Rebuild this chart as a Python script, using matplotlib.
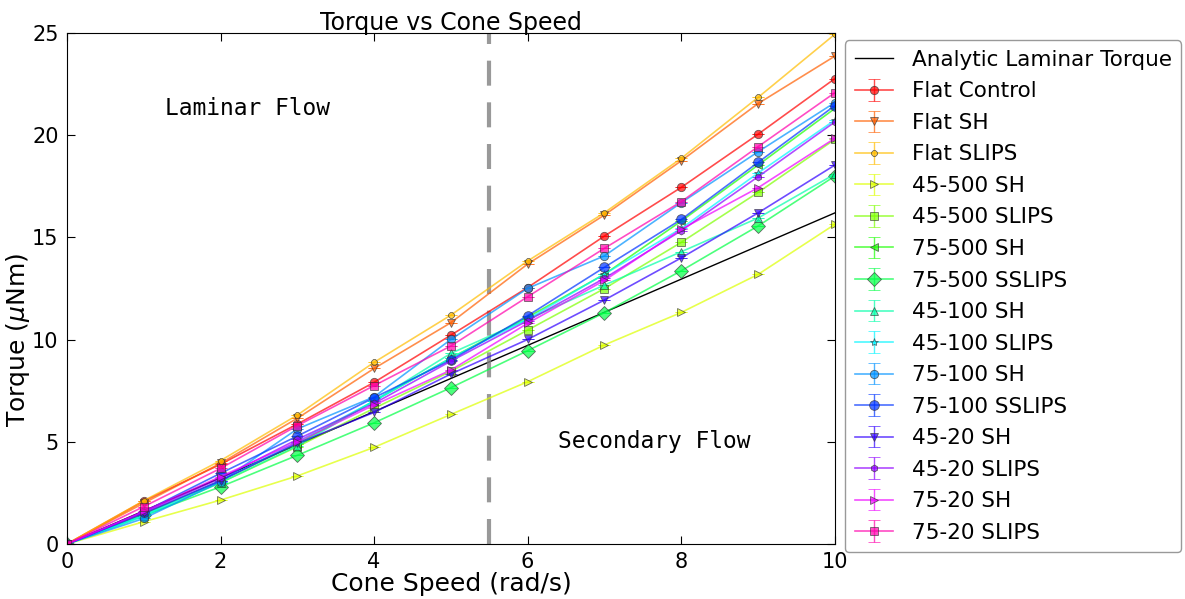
import numpy as np
import matplotlib
matplotlib.use("Agg")
import matplotlib.pyplot as plt

# Cone speed (rad/s)
speed = [0, 1, 2, 3, 4, 5, 6, 7, 8, 9, 10]

# Analytic laminar torque (uNm)
analytic = [0, 1.62, 3.24, 4.86, 6.48, 8.10, 9.72, 11.34, 12.96, 14.58, 16.2]

labels = ["Flat Control", "Flat SH", "Flat SLIPS",
          "45-500 SH", "45-500 SLIPS", "75-500 SH", "75-500 SSLIPS",
          "45-100 SH", "45-100 SLIPS", "75-100 SH", "75-100 SSLIPS",
          "45-20 SH", "45-20 SLIPS", "75-20 SH", "75-20 SLIPS"]

flat_control = [0, 2.10, 3.90, 5.87, 7.91, 10.22, 12.55, 15.07, 17.45, 20.05, 22.77]
flat_sh = [0, 2.00, 3.95, 6.15, 8.59, 10.83, 13.70, 16.10, 18.75, 21.55, 23.87]
flat_slips = [0, 2.12, 4.08, 6.31, 8.89, 11.20, 13.85, 16.21, 18.87, 21.85, 24.94]
s45_500_sh = [0, 1.09, 2.15, 3.33, 4.73, 6.34, 7.94, 9.74, 11.33, 13.19, 15.64]
s45_500_slips = [0, 1.50, 3.00, 4.76, 6.64, 8.45, 10.47, 12.50, 14.76, 17.20, 19.80]
s75_500_sh = [0, 1.45, 3.10, 4.90, 7.00, 9.10, 11.10, 13.20, 15.80, 18.54, 21.31]
s75_500_sslips = [0, 1.40, 2.80, 4.34, 5.93, 7.65, 9.46, 11.32, 13.37, 15.56, 18.00]
s45_100_sh = [0, 1.35, 3.00, 4.80, 7.00, 9.33, 11.00, 12.67, 14.30, 15.95, 18.10]
s45_100_slips = [0, 1.40, 3.10, 5.00, 7.00, 9.10, 11.00, 13.21, 15.44, 18.15, 20.74]
s75_100_sh = [0, 1.25, 3.05, 5.63, 7.20, 10.01, 12.51, 14.10, 16.70, 19.19, 21.60]
s75_100_sslips = [0, 1.58, 3.46, 5.28, 7.16, 9.00, 11.17, 13.54, 15.88, 18.67, 21.45]
s45_20_sh = [0, 1.50, 3.10, 4.93, 6.44, 8.32, 10.01, 11.94, 14.00, 16.20, 18.54]
s45_20_slips = [0, 1.55, 3.21, 5.12, 6.88, 8.95, 10.93, 13.00, 15.33, 17.97, 20.65]
s75_20_sh = [0, 1.60, 3.30, 5.00, 6.80, 8.51, 10.80, 12.90, 15.40, 17.43, 19.85]
s75_20_slips = [0, 1.83, 3.70, 5.79, 7.75, 9.69, 12.10, 14.47, 16.75, 19.44, 22.08]

series = [flat_control, flat_sh, flat_slips, s45_500_sh, s45_500_slips,
          s75_500_sh, s75_500_sslips, s45_100_sh, s45_100_slips, s75_100_sh,
          s75_100_sslips, s45_20_sh, s45_20_slips, s75_20_sh, s75_20_slips]

# no visible error bars in the figure
errors = [0] * len(speed)

markers = ["o", "v", "8", ">", "s", "<", "D", "^", "*", "o", "o", "v", "h", ">", "s"]
msizes = [6, 6, 5, 6, 6, 6, 7, 6, 6, 6, 7, 6, 5, 6, 6]

colors = plt.cm.hsv(np.linspace(0, 0.9, len(labels)))

fig = plt.figure(figsize=(11.85, 5.99), dpi=100)
ax = fig.add_axes([0.0565, 0.0918, 0.648, 0.853])

ax.plot(speed, analytic, color="black", lw=1, label="Analytic Laminar Torque")
for i, (lab, vals) in enumerate(zip(labels, series)):
    ax.errorbar(speed, vals, yerr=errors, color=colors[i], alpha=0.7,
                marker=markers[i], ms=msizes[i], mec=(0.2, 0.2, 0.2, 0.8),
                mew=0.6, lw=1.2, capsize=4, elinewidth=1, label=lab)

ax.axvline(5.5, color="gray", ls="--", lw=3, dashes=(6, 4), alpha=0.8)

ax.text(1.28, 21.3, "Laminar Flow", family="DejaVu Sans Mono", fontsize=16.5,
        va="center")
ax.text(6.4, 5.0, "Secondary Flow", family="DejaVu Sans Mono", fontsize=16.5,
        va="center")

ax.set_xlim(0, 10)
ax.set_ylim(0, 25)
ax.set_xticks([0, 2, 4, 6, 8, 10])
ax.set_yticks([0, 5, 10, 15, 20, 25])
ax.tick_params(direction="in", top=True, right=True, labelsize=15, length=6,
               pad=6)
ax.set_xlabel("Cone Speed (rad/s)", fontsize=18, labelpad=0)
ax.set_ylabel(r"Torque ($\mu$Nm)", fontsize=18)
ax.yaxis.set_label_coords(-0.045, 0.4)
ax.set_title("Torque vs Cone Speed", fontsize=17, pad=2)

ax.legend(loc="upper left", bbox_to_anchor=(1.013, 0.986), borderaxespad=0,
          fontsize=15.5, handlelength=1.8, handletextpad=0.85,
          labelspacing=0.535, borderpad=0.45,
          fancybox=True, framealpha=1, edgecolor="0.6")

fig.savefig("out.png", dpi=100)
